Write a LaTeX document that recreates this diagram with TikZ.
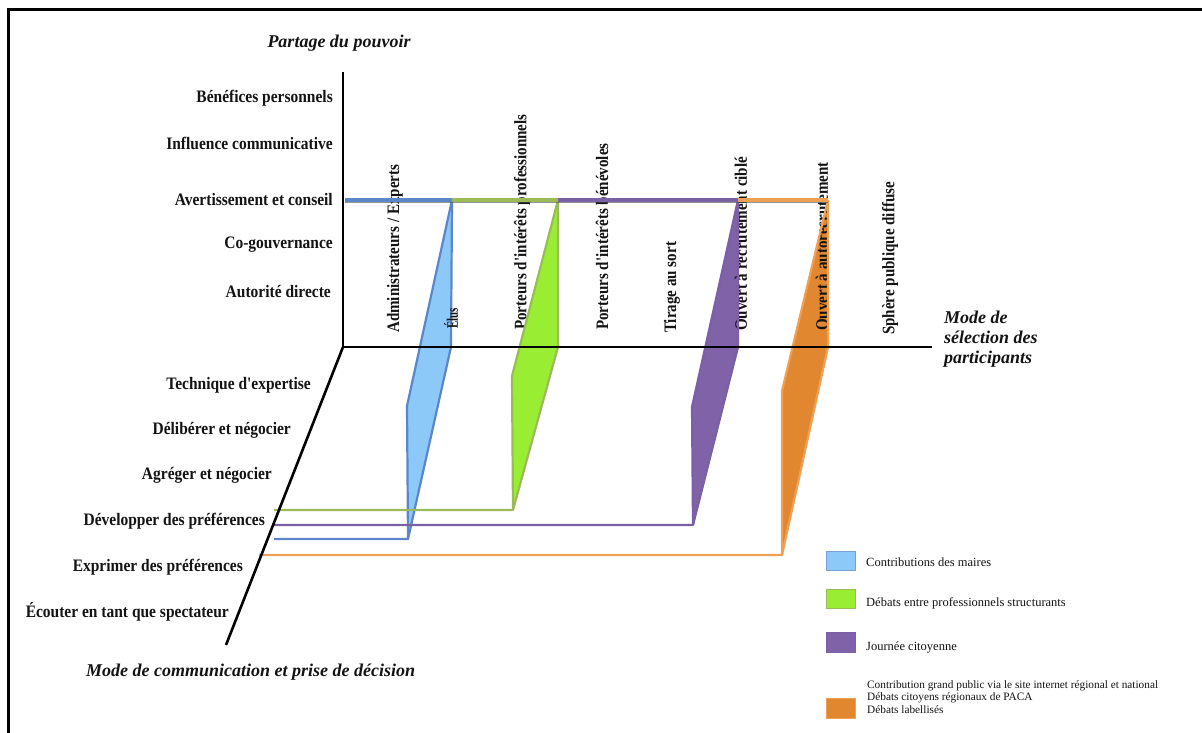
\documentclass[tikz,border=0pt]{standalone}
\usepackage{fontspec}
\setmainfont{Liberation Serif}
\usetikzlibrary{calc}
\definecolor{txt}{HTML}{141414}
\definecolor{bfill}{HTML}{8CC8F8}
\definecolor{bline}{HTML}{5B87C8}
\definecolor{gfill}{HTML}{99EE33}
\definecolor{gline}{HTML}{9BBB59}
\definecolor{pfill}{HTML}{7F62A8}
\definecolor{pline}{HTML}{7A60A6}
\definecolor{ofill}{HTML}{E0872F}
\definecolor{oline}{HTML}{EFA055}
\newcommand{\cnd}[1]{\scalebox{0.885}[1]{#1}}
\newcommand{\cnv}[1]{\scalebox{0.86}[1]{#1}}
\newcommand{\q}{\textquotesingle}
\tikzset{
  hlab/.style={anchor=east, inner sep=0pt, text=txt, font=\fontsize{17.5}{19}\selectfont\bfseries},
  vlab/.style={anchor=west, rotate=90, inner sep=0pt, text=txt, font=\fontsize{17.5}{19}\selectfont\bfseries},
  ttl/.style={inner sep=0pt, text=txt, font=\fontsize{18}{20}\selectfont\bfseries\itshape},
  leg/.style={anchor=west, inner sep=0pt, text=txt, font=\fontsize{12.5}{14}\selectfont},
  legbox/.style={line width=0.8pt},
  axisline/.style={line width=2.6pt, black},
  rib/.style={line width=2.2pt, line join=round},
  topline/.style={line width=4.5pt},
  shadowline/.style={line width=3pt, black!70, opacity=0.6},
}
\begin{document}
\begin{tikzpicture}[x=1pt,y=-1pt]
\useasboundingbox (0,0) rectangle (1202,733);
\fill[white] (0,0) rectangle (1202,733);
% frame
\draw[line width=3pt] (8,733) -- (8,10) -- (1202,10);

% axes coordinates
\coordinate (O) at (343,347);
\coordinate (Vtop) at (343,72);
\coordinate (Hend) at (932,347);
\coordinate (Dend) at (226,645);

% ribbon coordinates
\coordinate (bT) at (452,200); \coordinate (bB) at (451,347);
\coordinate (bC) at (408,539); \coordinate (bD) at (407,406);
\coordinate (bL) at (274,539); \coordinate (bS) at (345,200);
\coordinate (gT) at (558,200); \coordinate (gB) at (558,347);
\coordinate (gC) at (513,510); \coordinate (gD) at (512,376);
\coordinate (gL) at (274,510); \coordinate (gX) at (423,510);
\coordinate (pT) at (738,200); \coordinate (pB) at (738,347);
\coordinate (pC) at (693,525); \coordinate (pD) at (692,407);
\coordinate (pL) at (274,525); \coordinate (pX) at (423,525);
\coordinate (oT) at (828,200); \coordinate (oB) at (828,347);
\coordinate (oC) at (782,555); \coordinate (oD) at (782,391);
\coordinate (oL) at (259,555);

% column labels (under the ribbons)
\node[vlab] (c1) at (395,333) {\cnv{Administrateurs / Experts}};
\node[vlab] (c3) at (522,330) {\cnv{Porteurs d\q intérêts professionnels}};
\node[vlab] (c4) at (602,330) {\cnv{Porteurs d\q intérêts bénévoles}};
\node[vlab] (c5) at (672,333) {\cnv{Tirage au sort}};
\node[vlab] (c8) at (890,335) {\cnv{Sphère publique diffuse}};

% ribbon fills
\fill[ofill] (oT) -- (oB) -- (oC) -- (oD) -- cycle;
\fill[pfill] (pT) -- (pB) -- (pC) -- (pD) -- cycle;
\fill[gfill] (gT) -- (gB) -- (gC) -- (gD) -- cycle;
\fill[bfill] (bT) -- (bB) -- (bC) -- (bD) -- cycle;

\node[vlab] (c6) at (741,331) {\cnv{Ouvert à recrutement ciblé}};
\node[vlab] (c7) at (822,331) {\cnv{Ouvert à autorecrutement}};

% ribbon outlines
\draw[oline, rib] (oT) -- (oD) -- (oC);
\draw[oline, rib] (oT) -- (oB) -- (oC) -- (oL);
\draw[pline, rib] (pT) -- (pD) -- (pC);
\draw[pline, rib] (pT) -- (pB) -- (pC) -- (pL);
\draw[gline, rib] (gT) -- (gD) -- (gC);
\draw[gline, rib] (gT) -- (gB) -- (gC) -- (gL);
\draw[bline, rib] (bT) -- (bD) -- (bC);
\draw[bline, rib] (bT) -- (bB) -- (bC) -- (bL);
% lines crossing the blue ribbon
\draw[gline, rib] (gL) -- (gX);
\draw[pline, rib] (pL) -- (pX);

% top line (Avertissement et conseil)
\draw[shadowline] ($(bS)+(0,1.5)$) -- ($(oT)+(0,1.5)$);
\draw[bline, topline] (bS) -- (bT);
\draw[gline, topline] (bT) -- (gT);
\draw[pline, topline] (gT) -- (pT);
\draw[oline, topline] (pT) -- (oT);

% axes
\draw[axisline] (Vtop) -- (O) -- (Hend);
\draw[axisline] (O) -- (Dend);

\node[vlab, font=\fontsize{16}{18}\selectfont\bfseries] (c2) at (451,329) {\scalebox{0.68}[1]{Élus}};

% axis titles
\node[ttl] (t1) at (339,43) {Partage du pouvoir};
\node[ttl, anchor=west, align=left] (t2) at (944,339) {Mode de\\sélection des\\participants};
\node[ttl, anchor=west] (t3) at (86,672) {Mode de communication et prise de décision};

% vertical axis labels
\node[hlab] (y1) at (333,98) {\cnd{Bénéfices personnels}};
\node[hlab] (y2) at (333,143) {\cnd{Influence communicative}};
\node[hlab] (y3) at (333,200) {\cnd{Avertissement et conseil}};
\node[hlab] (y4) at (333,245) {\cnd{Co-gouvernance}};
\node[hlab] (y5) at (331,292) {\cnd{Autorité directe}};

% diagonal axis labels
\node[hlab] (z1) at (311,385) {\cnd{Technique d\q expertise}};
\node[hlab] (z2) at (291,430) {\cnd{Délibérer et négocier}};
\node[hlab] (z3) at (272,475) {\cnd{Agréger et négocier}};
\node[hlab] (z4) at (265,521) {\cnd{Développer des préférences}};
\node[hlab] (z5) at (243,567) {\cnd{Exprimer des préférences}};
\node[hlab] (z6) at (229,612) {\cnd{Écouter en tant que spectateur}};

% legend
\draw[legbox, fill=bfill, draw=bline!80] (826,551) rectangle (855,570);
\draw[legbox, fill=gfill, draw=gline] (826,589) rectangle (855,608);
\draw[legbox, fill=pfill, draw=pline] (826,632) rectangle (855,652);
\draw[legbox, fill=ofill, draw=oline] (826,698) rectangle (855,718);
\node[leg] (l1) at (866,562) {Contributions des maires};
\node[leg] (l2) at (866,603) {Débats entre professionnels structurants};
\node[leg] (l3) at (866,647) {Journée citoyenne};
\node[leg, font=\fontsize{11.3}{12.6}\selectfont, align=left] (l4) at (867,697)
  {Contribution grand public via le site internet régional et national\\Débats citoyens régionaux de PACA\\Débats labellisés};
\end{tikzpicture}
\end{document}
